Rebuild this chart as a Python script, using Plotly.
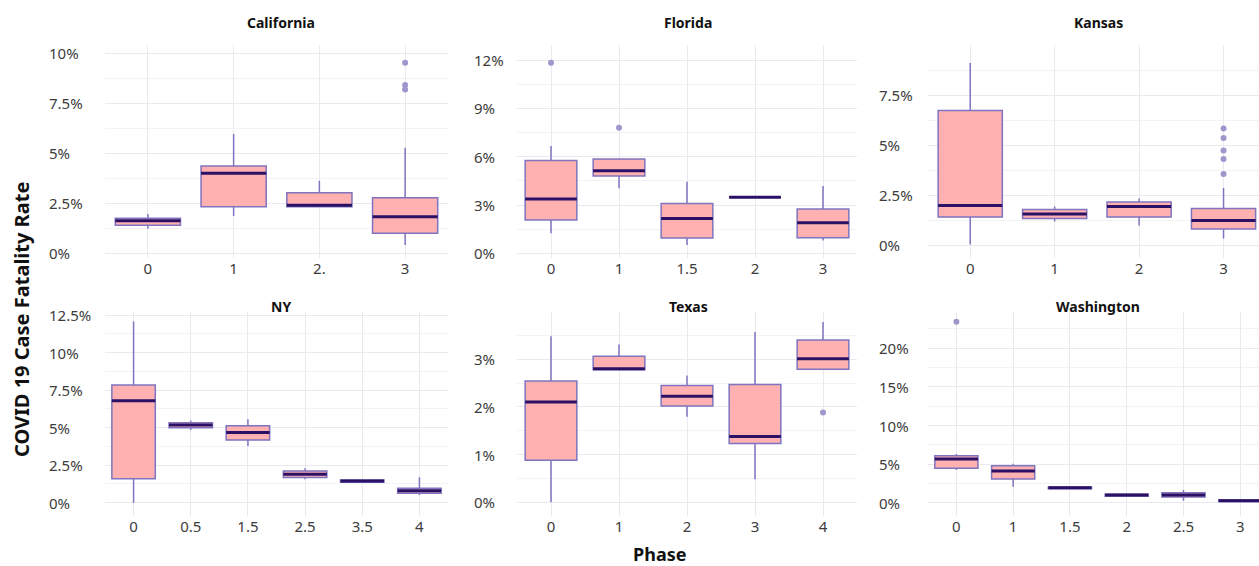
import plotly.graph_objects as go

W, H = 1259, 566

# ---------------- data (case fatality rate, in percent) ----------------
# California
cal_phase = ["0", "1", "2.", "3"]
cal_q1 = [1.40, 2.33, 2.33, 1.00]
cal_med = [1.63, 4.00, 2.40, 1.83]
cal_q3 = [1.75, 4.37, 3.03, 2.78]
cal_lo = [1.23, 1.87, 2.33, 0.42]
cal_hi = [1.97, 5.97, 3.63, 5.28]
cal_out_phase = ["3", "3", "3"]
cal_out = [9.53, 8.42, 8.20]
cal_yticks = [0, 2.5, 5, 7.5, 10]
cal_yticklabels = ["0%", "2.5%", "5%", "7.5%", "10%"]

# Florida
fl_phase = ["0", "1", "1.5", "2", "3"]
fl_q1 = [2.07, 4.80, 0.95, 3.48, 0.97]
fl_med = [3.37, 5.13, 2.17, 3.48, 1.90]
fl_q3 = [5.76, 5.86, 3.10, 3.48, 2.75]
fl_lo = [1.24, 4.04, 0.52, 3.48, 0.79]
fl_hi = [6.67, 5.86, 4.45, 3.48, 4.18]
fl_out_phase = ["0", "1"]
fl_out = [11.84, 7.80]
fl_yticks = [0, 3, 6, 9, 12]
fl_yticklabels = ["0%", "3%", "6%", "9%", "12%"]

# Kansas
ks_phase = ["0", "1", "2", "3"]
ks_q1 = [1.40, 1.32, 1.40, 0.80]
ks_med = [1.97, 1.55, 1.93, 1.23]
ks_q3 = [6.72, 1.77, 2.15, 1.82]
ks_lo = [0.02, 1.18, 0.97, 0.32]
ks_hi = [9.10, 1.93, 2.32, 2.85]
ks_out_phase = ["3", "3", "3", "3", "3"]
ks_out = [5.82, 5.35, 4.72, 4.30, 3.55]
ks_yticks = [0, 2.5, 5, 7.5]
ks_yticklabels = ["0%", "2.5%", "5%", "7.5%"]

# NY
ny_phase = ["0", "0.5", "1.5", "2.5", "3.5", "4"]
ny_q1 = [1.60, 5.00, 4.18, 1.67, 1.36, 0.62]
ny_med = [6.80, 5.18, 4.67, 1.89, 1.44, 0.80]
ny_q3 = [7.84, 5.33, 5.13, 2.11, 1.51, 0.96]
ny_lo = [0.00, 4.84, 3.78, 1.56, 1.36, 0.51]
ny_hi = [12.07, 5.47, 5.56, 2.29, 1.51, 1.69]
ny_out_phase = []
ny_out = []
ny_yticks = [0, 2.5, 5, 7.5, 10, 12.5]
ny_yticklabels = ["0%", "2.5%", "5%", "7.5%", "10%", "12.5%"]

# Texas
tx_phase = ["0", "1", "2", "3", "4"]
tx_q1 = [0.88, 2.78, 2.02, 1.23, 2.79]
tx_med = [2.10, 2.80, 2.22, 1.38, 3.01]
tx_q3 = [2.54, 3.06, 2.45, 2.47, 3.40]
tx_lo = [0.00, 2.78, 1.79, 0.48, 2.79]
tx_hi = [3.48, 3.31, 2.66, 3.57, 3.78]
tx_out_phase = ["4"]
tx_out = [1.88]
tx_yticks = [0, 1, 2, 3]
tx_yticklabels = ["0%", "1%", "2%", "3%"]

# Washington
wa_phase = ["0", "1", "1.5", "2", "2.5", "3"]
wa_q1 = [4.45, 3.07, 1.80, 0.85, 0.73, 0.15]
wa_med = [5.66, 4.10, 1.94, 0.99, 0.99, 0.26]
wa_q3 = [6.09, 4.80, 2.05, 1.10, 1.30, 0.37]
wa_lo = [4.23, 2.07, 1.80, 0.85, 0.26, 0.15]
wa_hi = [6.30, 5.05, 2.05, 1.10, 1.64, 0.37]
wa_out_phase = ["0"]
wa_out = [23.45]
wa_yticks = [0, 5, 10, 15, 20]
wa_yticklabels = ["0%", "5%", "10%", "15%", "20%"]

# ---------------- assemble panels ----------------
panels = [
    dict(name="California", phase=cal_phase, q1=cal_q1, med=cal_med, q3=cal_q3, lo=cal_lo, hi=cal_hi,
         op=cal_out_phase, ov=cal_out, yt=cal_yticks, yl=cal_yticklabels),
    dict(name="Florida", phase=fl_phase, q1=fl_q1, med=fl_med, q3=fl_q3, lo=fl_lo, hi=fl_hi,
         op=fl_out_phase, ov=fl_out, yt=fl_yticks, yl=fl_yticklabels),
    dict(name="Kansas", phase=ks_phase, q1=ks_q1, med=ks_med, q3=ks_q3, lo=ks_lo, hi=ks_hi,
         op=ks_out_phase, ov=ks_out, yt=ks_yticks, yl=ks_yticklabels),
    dict(name="NY", phase=ny_phase, q1=ny_q1, med=ny_med, q3=ny_q3, lo=ny_lo, hi=ny_hi,
         op=ny_out_phase, ov=ny_out, yt=ny_yticks, yl=ny_yticklabels),
    dict(name="Texas", phase=tx_phase, q1=tx_q1, med=tx_med, q3=tx_q3, lo=tx_lo, hi=tx_hi,
         op=tx_out_phase, ov=tx_out, yt=tx_yticks, yl=tx_yticklabels),
    dict(name="Washington", phase=wa_phase, q1=wa_q1, med=wa_med, q3=wa_q3, lo=wa_lo, hi=wa_hi,
         op=wa_out_phase, ov=wa_out, yt=wa_yticks, yl=wa_yticklabels),
]

# ---------------- layout geometry (pixels) ----------------
col_px = [(105, 448), (517, 857), (928, 1259)]
col_label_px = [47, 472, 877]          # left edge of the (left-aligned) y tick labels
col_title_px = [281, 688, 1098]
row_px = [(45, 258), (312, 516)]
row_title_px = [22, 306]
# y ranges (percent) and minor grid step per panel
y_ranges = [(-0.235, 10.42), (-0.29, 12.94), (-0.65, 10.0),
            (-0.89, 12.71), (-0.29, 3.99), (-1.72, 24.7)]
y_minor = [1.25, 1.5, 1.25, 1.25, 0.5, 2.5]
x_right = [3.5, 4.5, 3.42, 5.5, 4.5, 5.33]
BOX_W = 0.76

FILL = "#FFB1B1"
EDGE = "#7F74BF"
MEDIAN = "#2A1166"
OUTLIER = "#9D97CC"
GRID = "#E9E9EF"
GRID_MINOR = "#F3F3F6"
TICK = "#3c3c3c"
FONT = "Noto Sans"


def fx(px):
    return px / W


def fy(py):
    return 1 - py / H


fig = go.Figure()
layout = dict(
    width=W, height=H,
    margin=dict(l=0, r=0, t=0, b=0, autoexpand=False),
    paper_bgcolor="white", plot_bgcolor="white",
    showlegend=False,
    boxmode="overlay",
    font=dict(family=FONT, size=15, color="#444444"),
)
annotations = []

for i, p in enumerate(panels):
    r, c = divmod(i, 3)
    sx = "" if i == 0 else str(i + 1)
    xa, ya = "x" + sx, "y" + sx

    fig.add_trace(go.Box(
        x=p["phase"], q1=p["q1"], median=p["med"], q3=p["q3"],
        lowerfence=p["lo"], upperfence=p["hi"], width=BOX_W,
        fillcolor=FILL, line=dict(color=EDGE, width=1.5), whiskerwidth=0,
        boxpoints=False, hoverinfo="skip", xaxis=xa, yaxis=ya,
    ))
    # thick dark median
    fig.add_trace(go.Box(
        x=p["phase"], q1=p["med"], median=p["med"], q3=p["med"],
        lowerfence=p["med"], upperfence=p["med"], width=BOX_W,
        fillcolor="rgba(0,0,0,0)", line=dict(color=MEDIAN, width=3), whiskerwidth=0,
        boxpoints=False, hoverinfo="skip", xaxis=xa, yaxis=ya,
    ))
    if p["ov"]:
        fig.add_trace(go.Scatter(
            x=p["op"], y=p["ov"], mode="markers",
            marker=dict(color=OUTLIER, size=6),
            hoverinfo="skip", xaxis=xa, yaxis=ya,
        ))

    x0, x1 = col_px[c]
    y0, y1 = row_px[r]
    layout["xaxis" + sx] = dict(
        type="category", categoryorder="array", categoryarray=p["phase"],
        domain=[fx(x0), fx(x1)], range=[-0.5, x_right[i]], anchor=ya,
        showgrid=True, gridcolor=GRID, gridwidth=1, zeroline=False, showline=False,
        ticks="", tickfont=dict(size=15, color=TICK), fixedrange=True,
    )
    layout["yaxis" + sx] = dict(
        domain=[fy(y1), fy(y0)], range=list(y_ranges[i]), anchor=xa,
        tickmode="array", tickvals=p["yt"], ticktext=p["yl"], showticklabels=False,
        showgrid=True, gridcolor=GRID, gridwidth=1, zeroline=False, showline=False,
        ticks="",
        minor=dict(tickmode="linear", tick0=0, dtick=y_minor[i], showgrid=True,
                   gridcolor=GRID_MINOR, gridwidth=1, ticks=""),
        fixedrange=True,
    )
    # left-aligned y tick labels, placed on the axis scale
    for v, lab in zip(p["yt"], p["yl"]):
        annotations.append(dict(
            text=lab, x=fx(col_label_px[c]), y=v, xref="paper", yref=ya,
            showarrow=False, xanchor="left", yanchor="middle",
            font=dict(family=FONT, size=15, color=TICK),
        ))
    annotations.append(dict(
        text="<b>" + p["name"] + "</b>", x=fx(col_title_px[c]), y=fy(row_title_px[r]),
        xref="paper", yref="paper", showarrow=False, xanchor="center", yanchor="middle",
        font=dict(family=FONT, size=14, color="#111111"),
    ))

annotations.append(dict(
    text="<b>COVID 19 Case Fatality Rate</b>", x=fx(21), y=fy(320), xref="paper", yref="paper",
    showarrow=False, textangle=-90, xanchor="center", yanchor="middle",
    font=dict(family=FONT, size=20, color="#111111"),
))
annotations.append(dict(
    text="<b>Phase</b>", x=fx(660), y=fy(554), xref="paper", yref="paper",
    showarrow=False, xanchor="center", yanchor="middle",
    font=dict(family=FONT, size=18, color="#111111"),
))
layout["annotations"] = annotations
fig.update_layout(**layout)

fig.write_html("out.html", config=dict(displayModeBar=False),
               post_script="document.body.style.margin='0';document.body.style.overflow='hidden';")
